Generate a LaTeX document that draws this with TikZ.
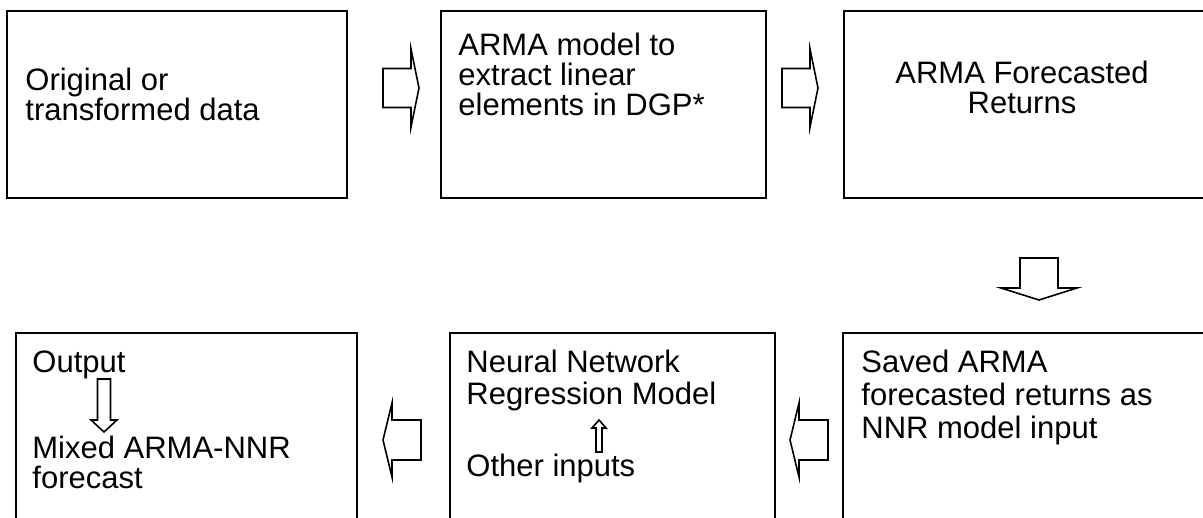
\documentclass[tikz,border=0pt]{standalone}
\usepackage{fontspec}
\setmainfont{Liberation Sans}

\tikzset{
  box/.style={draw, line width=1pt, inner sep=0pt, anchor=north west},
  txt/.style={inner sep=0pt, anchor=base west, font=\fontsize{15.5}{15.5}\selectfont},
  pics/hollow/.style args={#1/#2/#3/#4}{code={
    \draw[line width=0.8pt, line join=miter]
      (0,-#2) -- (#1-#4,-#2) -- (#1-#4,-#3) -- (#1,0) -- (#1-#4,#3) -- (#1-#4,#2) -- (0,#2) -- cycle;}}
}

\begin{document}
\begin{tikzpicture}[x=0.5pt, y=-0.5pt]
\useasboundingbox (0,0) rectangle (1203,518);
\fill[white] (0,0) rectangle (1203,518);
% top row
\node[box, minimum width=170pt, minimum height=93.5pt] (orig) at (6,10) {};
\node[box, minimum width=162.5pt, minimum height=93.5pt] (armamod) at (440,10) {};
\node[box, minimum width=190pt, minimum height=93.5pt] (armafc) at (843,10) {};
% bottom row
\node[box, minimum width=170.5pt, minimum height=110pt] (mixed) at (15,332) {};
\node[box, minimum width=162.5pt, minimum height=110pt] (nnr) at (449,332) {};
\node[box, minimum width=190pt, minimum height=110pt] (saved) at (842,332) {};
% texts
\node[txt] (o1) at (25,91) {Original or};
\node[txt] (o2) at (25,121) {transformed data};
\node[txt] (m1) at (458,56) {ARMA model to};
\node[txt] (m2) at (458,86) {extract linear};
\node[txt] (m3) at (458,116) {elements in DGP*};
\node[txt, anchor=base] (f1) at (1022,84) {ARMA Forecasted};
\node[txt, anchor=base] (f2) at (1022,114) {Returns};
\node[txt] (s1) at (861,372) {Saved ARMA};
\node[txt] (s2) at (861,405) {forecasted returns as};
\node[txt] (s3) at (861,438) {NNR model input};
\node[txt] (n1) at (466,372) {Neural Network};
\node[txt] (n2) at (466,404) {Regression Model};
\node[txt] (n3) at (466,476) {Other inputs};
\node[txt] (x1) at (32,372) {Output};
\node[txt] (x2) at (32,458) {Mixed ARMA-NNR};
\node[txt] (x3) at (32,488) {forecast};
% block arrows
\pic at (383,88) {hollow=36/19.5/39/8};
\pic at (782,88) {hollow=36/19.5/39/8};
\pic[rotate=-90] at (1039,258) {hollow=42/19/38/12};
\pic[rotate=180] at (828,440) {hollow=38/20/37/9};
\pic[rotate=180] at (421,440) {hollow=38/20/37/9};
\pic[rotate=-90] at (104,379) {hollow=53/6.5/13/12};
\pic[rotate=90] at (599,452) {hollow=32/3/7/8};
\end{tikzpicture}
\end{document}
